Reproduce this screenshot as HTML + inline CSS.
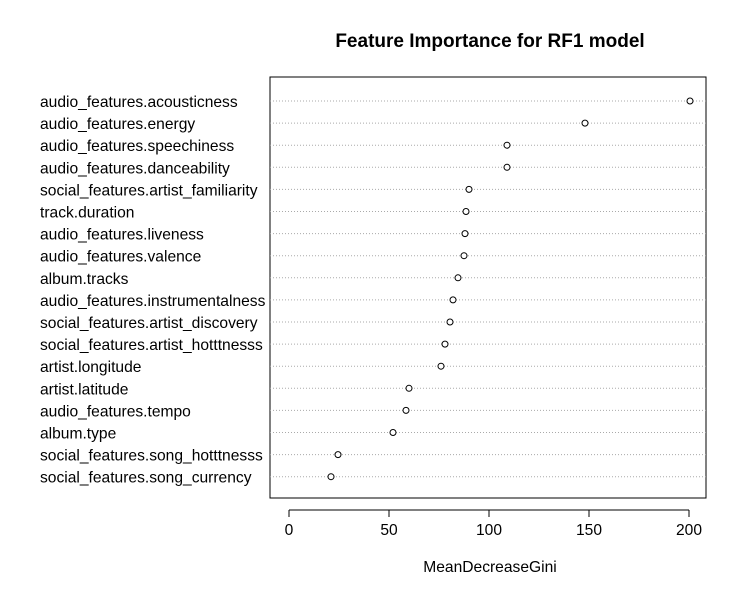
<!DOCTYPE html>
<html><head><meta charset="utf-8"><style>
body{margin:0;background:#fff;}
svg text{font-family:"Liberation Sans",Arial,sans-serif;fill:#000;}
</style></head><body>
<svg id="chart" width="747" height="596" xmlns="http://www.w3.org/2000/svg">
<rect width="747" height="596" fill="#fff"/>
<text x="490" y="47" font-size="19" font-weight="bold" text-anchor="middle">Feature Importance for RF1 model</text>
<rect x="270" y="77" width="436" height="421" fill="none" stroke="#000" stroke-width="1"/>
<g id="rows"></g>
<g id="xaxis"></g>
<text x="490" y="572" font-size="15.6" text-anchor="middle">MeanDecreaseGini</text>
</svg>
<script>
const features=["audio_features.acousticness","audio_features.energy","audio_features.speechiness","audio_features.danceability","social_features.artist_familiarity","track.duration","audio_features.liveness","audio_features.valence","album.tracks","audio_features.instrumentalness","social_features.artist_discovery","social_features.artist_hotttnesss","artist.longitude","artist.latitude","audio_features.tempo","album.type","social_features.song_hotttnesss","social_features.song_currency"];
const values=[200.5,148,109,109,90,88.5,88,87.5,84.5,82,80.5,78,76,60,58.5,52,24.5,21];
const ticks=[0,50,100,150,200];
const NS="http://www.w3.org/2000/svg";
const x=v=>289+v*2;
const y=i=>101+i*22.1;
const rows=document.getElementById('rows');
function mk(t,a){const e=document.createElementNS(NS,t);for(const k in a)e.setAttribute(k,a[k]);return e;}
features.forEach((f,i)=>{
  const l=mk('line',{x1:270,x2:706,y1:y(i),y2:y(i),stroke:'#aaa','stroke-dasharray':'1,2'});
  
  
  rows.appendChild(l);
  const t=mk('text',{x:40,y:y(i)+6,'font-size':'15.6'});t.textContent=f;
  
  
  rows.appendChild(t);
  const c=mk('circle',{cx:x(values[i]),cy:y(i),r:3,fill:'#fff',stroke:'#000'});
  
  
  rows.appendChild(c);
});
const xa=document.getElementById('xaxis');
const ax=mk('line',{x1:x(0),x2:x(200),y1:510,y2:510,stroke:'#000'});


xa.appendChild(ax);
ticks.forEach(v=>{
  const tk=mk('line',{x1:x(v),x2:x(v),y1:510,y2:517,stroke:'#000'});
  
  
  xa.appendChild(tk);
  const t=mk('text',{x:x(v),y:535,'font-size':'15.6','text-anchor':'middle'});t.textContent=v;
  
  
  xa.appendChild(t);
});
</script>
</body></html>
